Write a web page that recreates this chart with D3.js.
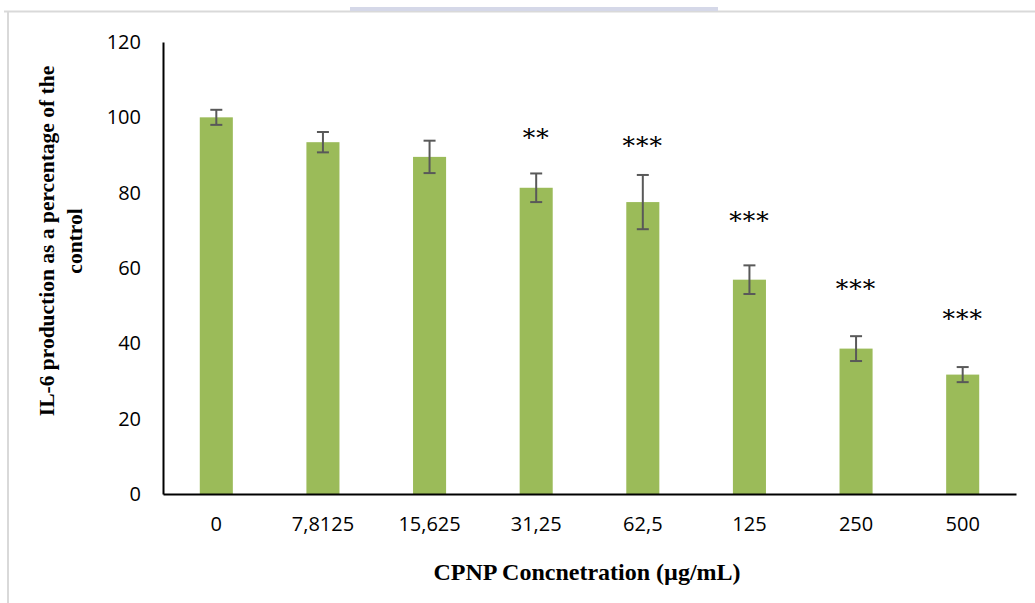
<!DOCTYPE html>
<html>
<head>
<meta charset="utf-8">
<script src="https://cdn.jsdelivr.net/npm/d3@7"></script>
<style>
  body { margin: 0; background: #fff; }
</style>
</head>
<body>
<svg id="chart" width="1035" height="603"></svg>
<script>
// data
const categories = ["0", "7,8125", "15,625", "31,25", "62,5", "125", "250", "500"];
const values = [100, 93.4, 89.5, 81.3, 77.5, 56.9, 38.6, 31.7];
const errors = [2.0, 2.7, 4.3, 3.8, 7.2, 3.8, 3.3, 2.0];
const stars = ["", "", "", "**", "***", "***", "***", "***"];
const starLevels = [0, 0, 0, 96, 94, 74, 56, 48];
const yTicks = [0, 20, 40, 60, 80, 100, 120];

let svg = d3.select("#chart");
let barColor = "#9bbb59";
let errColor = "#595959";

// frame
svg.append("line").attr("x1", 4).attr("x2", 1035).attr("y1", 11.5).attr("y2", 11.5)
  .style("stroke", "#d9d9d9").style("stroke-width", 2);
svg.append("line").attr("x1", 8).attr("x2", 8).attr("y1", 11).attr("y2", 603)
  .style("stroke", "#d9d9d9").style("stroke-width", 2);
svg.append("rect").attr("x", 350).attr("y", 7).attr("width", 368).attr("height", 4)
  .style("fill", "#d5d8e8");

let x = d3.scaleBand()
  .domain(categories)
  .range([163, 1016])
  .paddingInner(0.69)
  .paddingOuter(0.345);
let y = d3.scaleLinear()
  .domain([0, 120])
  .range([494, 42]);

// bars
svg.selectAll(".bar")
  .data(categories)
  .enter()
  .append("rect")
  .attr("x", d => x(d))
  .attr("y", (d, i) => y(values[i]))
  .attr("width", x.bandwidth())
  .attr("height", (d, i) => y(0) - y(values[i]))
  .style("fill", barColor);

// error bars
let eb = svg.selectAll(".err")
  .data(categories)
  .enter()
  .append("g")
  .style("stroke", errColor)
  .style("stroke-width", 2);
eb.append("line")
  .attr("x1", d => x(d) + x.bandwidth() / 2)
  .attr("x2", d => x(d) + x.bandwidth() / 2)
  .attr("y1", (d, i) => y(values[i] + errors[i]))
  .attr("y2", (d, i) => y(values[i] - errors[i]));
eb.append("line")
  .attr("x1", d => x(d) + x.bandwidth() / 2 - 6)
  .attr("x2", d => x(d) + x.bandwidth() / 2 + 6)
  .attr("y1", (d, i) => y(values[i] + errors[i]))
  .attr("y2", (d, i) => y(values[i] + errors[i]));
eb.append("line")
  .attr("x1", d => x(d) + x.bandwidth() / 2 - 6)
  .attr("x2", d => x(d) + x.bandwidth() / 2 + 6)
  .attr("y1", (d, i) => y(values[i] - errors[i]))
  .attr("y2", (d, i) => y(values[i] - errors[i]));

// significance stars
svg.selectAll(".star")
  .data(categories)
  .enter()
  .append("text")
  .attr("x", d => x(d) + x.bandwidth() / 2)
  .attr("y", (d, i) => y(starLevels[i]) + 14)
  .attr("text-anchor", "middle")
  .text((d, i) => stars[i])
  .style("font-family", "DejaVu Serif")
  .style("font-size", "25px")
  .style("letter-spacing", "1px")
  .style("fill", "#000");

// x-axis
svg.append("g")
  .attr("transform", "translate(0," + y(0) + ")")
  .call(d3.axisBottom(x).tickSize(0).tickPadding(23))
  .call(g => g.select(".domain").style("stroke", "#000").style("stroke-width", 2));

// y-axis
svg.append("g")
  .attr("transform", "translate(163,0)")
  .call(d3.axisLeft(y).tickValues(yTicks).tickSize(0).tickPadding(22))
  .call(g => g.select(".domain").style("stroke", "#000").style("stroke-width", 2));

svg.selectAll(".tick text")
  .style("fill", "#000")
  .style("font-family", "Open Sans")
  .style("font-size", "20px");

// axis titles
svg.append("text")
  .attr("x", 587)
  .attr("y", 580)
  .attr("text-anchor", "middle")
  .text("CPNP Concnetration (µg/mL)")
  .style("font-family", "Liberation Serif")
  .style("font-weight", "bold")
  .style("font-size", "24px");

let yt = svg.append("text")
  .attr("transform", "translate(0,241) rotate(-90)")
  .attr("text-anchor", "middle")
  .style("font-family", "Liberation Serif")
  .style("font-weight", "bold")
  .style("font-size", "21.5px");
yt.append("tspan").attr("x", 0).attr("y", 54).text("IL-6 production as a percentage of the");
yt.append("tspan").attr("x", 0).attr("y", 82).text("control");
</script>
</body>
</html>
